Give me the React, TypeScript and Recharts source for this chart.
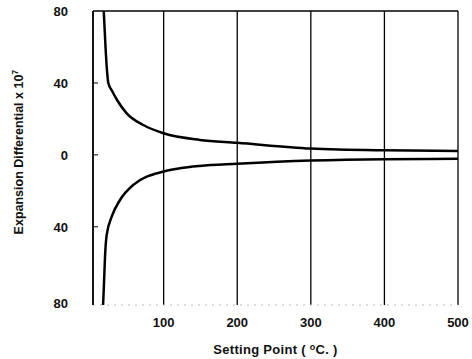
import React from "react";
import {
  LineChart,
  Line,
  XAxis,
  YAxis,
  CartesianGrid,
  ReferenceLine,
} from "recharts";

// upper branch (positive differential)
const upperX = [18.6, 21, 23, 24.8, 30, 36.7, 49.8, 72.4, 100, 149, 200, 300, 400, 500];
const upperY = [80, 60, 47, 40, 35.5, 30.5, 23.1, 16.6, 12, 8.3, 6.7, 3.5, 2.5, 2.2];

// lower branch (negative differential)
const lowerX = [17.7, 18.6, 20.8, 22.6, 29.4, 40.7, 58.8, 100, 122, 149, 200, 300, 400, 500];
const lowerY = [-83.5, -75, -53, -44.5, -34.4, -25.1, -16.7, -9.3, -7.5, -6.2, -5, -3.2, -2.4, -2.2];

const xTicks = [100, 200, 300, 400, 500];
const yTicks = [80, 40, 0, -40, -80];

const upper = upperX.map((x, i) => ({ x, v: upperY[i] }));
const lower = lowerX.map((x, i) => ({ x, v: lowerY[i] }));

const font = "'Liberation Sans', Arial, sans-serif";

const YTick = (props: any) => {
  const { x, y, payload } = props;
  const v = payload.value;
  return (
    <g>
      {v !== 80 && v !== -80 && (
        <line x1={x} x2={x + 5} y1={y} y2={y} stroke="#000" strokeWidth={1} />
      )}
      <text
        x={x - 25}
        y={y}
        dy={v === -80 ? 9 : 5}
        textAnchor="end"
        fontFamily={font}
        fontWeight="bold"
        fontSize={13}
        fill="#111"
      >
        {Math.abs(v)}
      </text>
    </g>
  );
};

const XTick = (props: any) => {
  const { x, y, payload } = props;
  return (
    <text
      x={x}
      y={y}
      dy={22}
      textAnchor="middle"
      fontFamily={font}
      fontWeight="bold"
      fontSize={13}
      fill="#111"
    >
      {payload.value}
    </text>
  );
};

const YLabel = () => {
  const cy = 152;
  const cx = 19;
  return (
    <text
      x={cx}
      y={cy}
      transform={`rotate(-90, ${cx}, ${cy})`}
      textAnchor="middle"
      dy={4}
      fontFamily={font}
      fontWeight="bold"
      fontSize={12.5}
      fill="#111"
    >
      Expansion Differential x 10
      <tspan dy={-5} fontSize={9}>
        7
      </tspan>
    </text>
  );
};

const XLabel = (props: any) => {
  const { viewBox } = props;
  const cx = viewBox.x + viewBox.width / 2;
  return (
    <text
      x={cx}
      y={354}
      textAnchor="middle"
      fontFamily={font}
      fontWeight="bold"
      fontSize={13}
      letterSpacing={0.3}
      fill="#111"
    >
      Setting Point ( <tspan dy={-4} fontSize={9}>o</tspan>
      <tspan dy={4}>C. )</tspan>
    </text>
  );
};

export default function App() {
  return (
    <div style={{ position: "absolute", left: 0, top: 0, background: "#fff" }}>
      <LineChart
        width={472}
        height={359}
        margin={{ top: 11, right: 14, left: 0, bottom: 0 }}
      >
        <CartesianGrid horizontal={false} stroke="#000" strokeWidth={1.3} />
        <XAxis
          type="number"
          dataKey="x"
          domain={[4, 500]}
          ticks={xTicks}
          axisLine={false}
          tickLine={false}
          tickSize={0}
          tickMargin={0}
          height={54}
          tick={<XTick />}
          label={<XLabel />}
        />
        <YAxis
          type="number"
          domain={[-83.5, 80]}
          ticks={yTicks}
          width={93}
          allowDataOverflow
          axisLine={{ stroke: "#000", strokeWidth: 1.5 }}
          tickLine={false}
          tickSize={0}
          tickMargin={0}
          tick={<YTick />}
          label={<YLabel />}
        />
        <ReferenceLine y={80} stroke="#000" strokeWidth={1.5} />
        <ReferenceLine y={-83.5} stroke="#bbb" strokeDasharray="2 5" />
        <Line
          data={upper}
          dataKey="v"
          type="monotone"
          stroke="#000"
          strokeWidth={2.5}
          dot={false}
          isAnimationActive={false}
        />
        <Line
          data={lower}
          dataKey="v"
          type="monotone"
          stroke="#000"
          strokeWidth={2.5}
          dot={false}
          isAnimationActive={false}
        />
      </LineChart>
    </div>
  );
}
